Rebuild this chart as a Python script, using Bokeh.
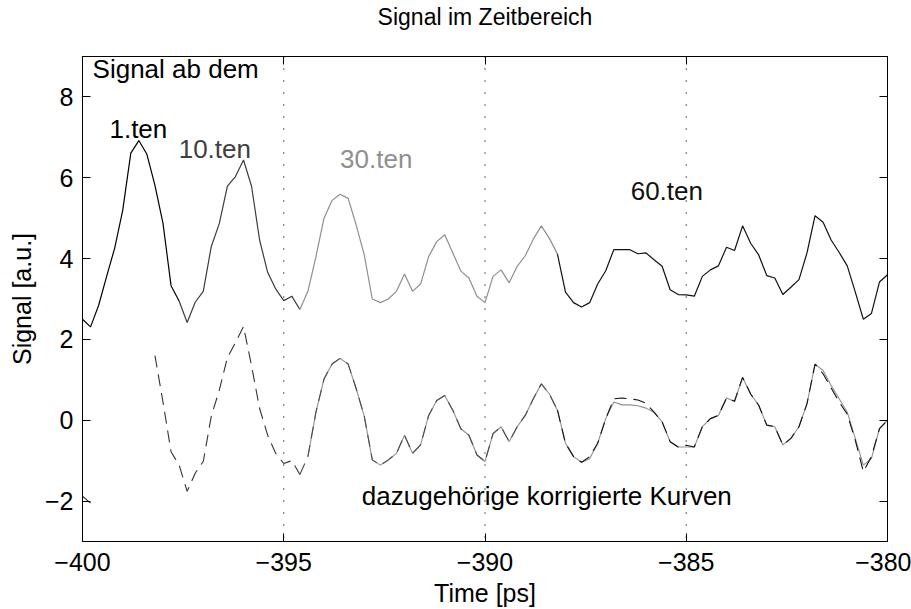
from bokeh.plotting import figure
from bokeh.models import Range1d, LinearAxis, Span, Label, FixedTicker, CustomJSTickFormatter
from bokeh.embed import file_html
from bokeh.resources import INLINE

FONT = "Liberation Sans"
NaN = float("nan")

# ---- data ----
time_ps = [-400.0 + 0.2 * k for k in range(101)]  # sampling grid, 0.2 ps

signal_raw = [2.50, 2.31, 2.84, 3.56, 4.26, 5.20, 6.61, 6.92, 6.58, 5.81,
              4.87, 3.33, 2.95, 2.42, 2.92, 3.19, 4.30, 4.87, 5.79, 6.03,
              6.44, 5.79, 4.46, 3.66, 3.25, 2.96, 3.07, 2.74, 3.19, 4.05,
              5.00, 5.44, 5.59, 5.49, 4.83, 4.09, 3.00, 2.91, 3.00, 3.19,
              3.62, 3.19, 3.37, 4.05, 4.42, 4.59, 4.14, 3.69, 3.52, 3.07,
              2.91, 3.56, 3.72, 3.40, 3.81, 4.07, 4.48, 4.81, 4.50, 4.11,
              3.17, 2.91, 2.80, 2.91, 3.37, 3.70, 4.22, 4.22, 4.22, 4.12,
              4.14, 3.97, 3.81, 3.23, 3.11, 3.10, 3.07, 3.56, 3.72, 3.82,
              4.28, 4.20, 4.81, 4.38, 4.09, 3.58, 3.52, 3.11, 3.29, 3.48,
              4.14, 5.06, 4.90, 4.46, 4.15, 3.82, 3.17, 2.50, 2.64, 3.42,
              3.60]

corrected_dashed = [-1.88, -2.05, NaN, NaN, NaN, NaN, NaN, NaN, NaN, 1.60,
                    0.45, -0.78, -1.11, -1.76, -1.31, -1.02, 0.10, 0.75, 1.55, 1.92,
                    2.32, 1.35, 0.29, -0.37, -0.82, -1.07, -1.00, -1.34, -0.90, 0.20,
                    1.02, 1.39, 1.53, 1.39, 0.78, 0.10, -0.98, -1.11, -0.98, -0.82,
                    -0.37, -0.82, -0.61, 0.12, 0.49, 0.61, 0.25, -0.21, -0.37, -0.86,
                    -1.02, -0.33, -0.16, -0.53, -0.16, 0.12, 0.53, 0.90, 0.65, 0.25,
                    -0.57, -0.90, -1.04, -0.90, -0.57, 0.04, 0.53, 0.55, 0.53, 0.50,
                    0.42, 0.20, -0.04, -0.53, -0.66, -0.62, -0.66, -0.16, 0.04, 0.12,
                    0.55, 0.47, 1.06, 0.65, 0.37, -0.12, -0.16, -0.61, -0.45, -0.16,
                    0.41, 1.39, 1.15, 0.80, 0.45, 0.15, -0.50, -1.27, -0.90, -0.21,
                    0.00]

corrected_gray = [NaN] * 28 + [
                    -0.90, 0.20,
                    1.02, 1.39, 1.53, 1.39, 0.78, 0.10, -0.98, -1.11, -0.98, -0.82,
                    -0.37, -0.82, -0.61, 0.12, 0.49, 0.61, 0.25, -0.21, -0.37, -0.86,
                    -1.02, -0.33, -0.16, -0.53, -0.16, 0.12, 0.53, 0.90, 0.65, 0.25,
                    -0.57, -0.90, -1.04, -0.95, -0.57, 0.04, 0.45, 0.38, 0.38, 0.36,
                    0.30, 0.20, -0.04, -0.53, -0.66, -0.66, -0.66, -0.16, 0.04, 0.12,
                    0.55, 0.47, 1.06, 0.65, 0.37, -0.12, -0.16, -0.61, -0.45, -0.16,
                    0.41, 1.39, 1.23, 0.86, 0.53, 0.20, -0.45, -1.11, -0.95, -0.21,
                    0.00]

# colour segments of the raw signal (start index, end index, colour)
segment_start = [0, 12, 27, 59]
segment_end = [12, 27, 59, 100]
segment_color = ["#000000", "#3c3c3c", "#8f8f8f", "#111111"]

# colour segments of the dashed corrected curve
dash_start = [0, 27, 59]
dash_end = [27, 59, 100]
dash_color = ["#333333", "#4a4a4a", "#111111"]

marker_times = [-395, -390, -385]

x_ticks = [-400, -395, -390, -385, -380]
x_tick_labels = ["\u2212400", "\u2212395", "\u2212390", "\u2212385", "\u2212380"]
y_ticks = [-2, 0, 2, 4, 6, 8]
y_tick_labels = ["\u22122", "0", "2", "4", "6", "8"]

annotations = [
    ("Signal ab dem", -399.75, 8.70, "#000000"),
    ("1.ten", -399.33, 7.21, "#000000"),
    ("10.ten", -397.61, 6.72, "#404040"),
    ("30.ten", -393.6, 6.47, "#8f8f8f"),
    ("60.ten", -386.38, 5.66, "#111111"),
    ("dazugeh\u00f6rige korrigierte Kurven", -393.06, -1.88, "#000000"),
]

# ---- figure ----
p = figure(width=911, height=609, output_backend="svg", toolbar_location=None,
           x_range=Range1d(-400, -380), y_range=Range1d(-3, 9),
           min_border_left=82, min_border_right=24, min_border_top=53,
           min_border_bottom=68)
p.title = None
p.background_fill_color = "white"
p.border_fill_color = "white"
p.grid.visible = False
p.outline_line_color = "black"
p.outline_line_width = 1

empty_fmt = CustomJSTickFormatter(code="return '';")

def style_axis(ax, labels=True):
    ax.major_tick_in = 8
    ax.major_tick_out = 0
    ax.minor_tick_in = 0
    ax.minor_tick_out = 0
    ax.axis_line_color = "black"
    ax.major_tick_line_color = "black"
    ax.major_label_text_font = FONT
    ax.major_label_text_color = "black"
    ax.axis_label_text_font = FONT
    ax.axis_label_text_font_style = "normal"
    ax.axis_label_text_font_size = "25px"
    ax.axis_label_text_color = "black"
    if labels:
        ax.major_label_text_font_size = "25px"
    else:
        ax.formatter = empty_fmt
        ax.major_label_text_font_size = "1px"
        ax.major_label_standoff = 0

xax = p.xaxis[0]
yax = p.yaxis[0]
xax.ticker = FixedTicker(ticks=x_ticks)
yax.ticker = FixedTicker(ticks=y_ticks)
xax.major_label_overrides = {float(t): s for t, s in zip(x_ticks, x_tick_labels)}
yax.major_label_overrides = {float(t): s for t, s in zip(y_ticks, y_tick_labels)}
style_axis(xax)
style_axis(yax)
xax.axis_label = "Time [ps]"
yax.axis_label = "Signal [a.u.]"
xax.major_label_standoff = 11
yax.major_label_standoff = 9
xax.axis_label_standoff = 5
yax.axis_label_standoff = 6

top_ax = LinearAxis(ticker=FixedTicker(ticks=x_ticks))
right_ax = LinearAxis(ticker=FixedTicker(ticks=y_ticks))
style_axis(top_ax, labels=False)
style_axis(right_ax, labels=False)
# the chart title is carried by the top axis label
top_ax.axis_label = "Signal im Zeitbereich"
top_ax.axis_label_text_font_size = "23px"
top_ax.axis_label_standoff = 27
p.add_layout(top_ax, "above")
p.add_layout(right_ax, "right")

for t in marker_times:
    p.add_layout(Span(location=t, dimension="height", line_color="#000000",
                      line_width=1.2, line_dash="1 11"))

# raw signal, coloured by segment
for s, e, c in zip(segment_start, segment_end, segment_color):
    p.line(time_ps[s:e + 1], signal_raw[s:e + 1], line_color=c, line_width=1.2)

# corrected curves
p.line(time_ps, corrected_gray, line_color="#909090", line_width=1.1)
for s, e, c in zip(dash_start, dash_end, dash_color):
    p.line(time_ps[s:e + 1], corrected_dashed[s:e + 1], line_color=c,
           line_width=1.1, line_dash="12 7")

for txt, x, y, c in annotations:
    p.add_layout(Label(x=x, y=y, text=txt, text_font=FONT, text_font_size="26px",
                       text_color=c, text_baseline="alphabetic", text_align="left"))

open("out.html", "w").write(file_html(p, INLINE))
